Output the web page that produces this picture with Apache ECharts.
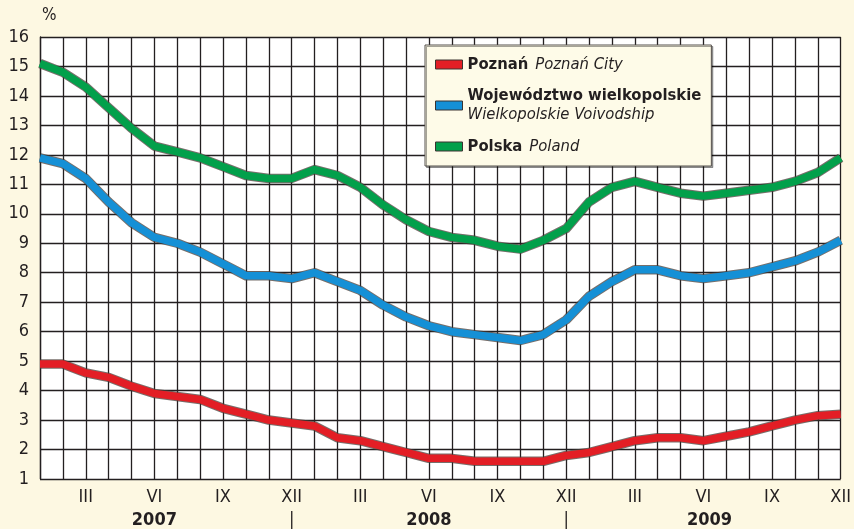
<!DOCTYPE html>
<html>
<head>
<meta charset="utf-8">
<script src="https://cdn.jsdelivr.net/npm/echarts@6/dist/echarts.min.js"></script>
<style>
  html, body { margin: 0; padding: 0; background: #fdf8e2; }
  #chart { width: 854px; height: 529px; }
</style>
</head>
<body>
<div id="chart"></div>
<script>
// stopa bezrobocia, I 2007 - XII 2009
const years = ["2007", "2008", "2009"];
const monthNames = ["I", "II", "III", "IV", "V", "VI", "VII", "VIII", "IX", "X", "XI", "XII"];
const shownMonths = ["III", "VI", "IX", "XII"];

const poznan = [
  4.9, 4.9, 4.6, 4.45, 4.15, 3.9, 3.8, 3.7, 3.4, 3.2, 3.0, 2.9,
  2.8, 2.4, 2.3, 2.1, 1.9, 1.7, 1.7, 1.6, 1.6, 1.6, 1.6, 1.8,
  1.9, 2.1, 2.3, 2.4, 2.4, 2.3, 2.45, 2.6, 2.8, 3.0, 3.15, 3.2
];
const wielkopolskie = [
  11.9, 11.7, 11.2, 10.4, 9.7, 9.2, 9.0, 8.7, 8.3, 7.9, 7.9, 7.8,
  8.0, 7.7, 7.4, 6.9, 6.5, 6.2, 6.0, 5.9, 5.8, 5.7, 5.9, 6.4,
  7.2, 7.7, 8.1, 8.1, 7.9, 7.8, 7.9, 8.0, 8.2, 8.4, 8.7, 9.1
];
const polska = [
  15.1, 14.8, 14.3, 13.6, 12.9, 12.3, 12.1, 11.9, 11.6, 11.3, 11.2, 11.2,
  11.5, 11.3, 10.9, 10.3, 9.8, 9.4, 9.2, 9.1, 8.9, 8.8, 9.1, 9.5,
  10.4, 10.9, 11.1, 10.9, 10.7, 10.6, 10.7, 10.8, 10.9, 11.1, 11.4, 11.9
];

const categories = [];
years.forEach(y => monthNames.forEach(m => categories.push(m + " " + y)));

const FONT = '"Liberation Sans Narrow", "DejaVu Sans Condensed", "Liberation Sans", Arial, sans-serif';
const INK = "#231f20";

const legendSub = {
  "Poznań": "Poznań City",
  "Województwo wielkopolskie": "Wielkopolskie Voivodship",
  "Polska": "Poland"
};

const chart = echarts.init(document.getElementById("chart"));

function outline(data) {
  return {
    type: "line",
    data: data,
    silent: true,
    symbol: "none",
    z: 2,
    lineStyle: { width: 9.5, color: "#4a3f3a", opacity: 0.75, join: "round" }
  };
}
function mainLine(name, data, color) {
  return {
    name: name,
    type: "line",
    data: data,
    symbol: "none",
    color: color,
    z: 3,
    lineStyle: { width: 7.5, color: color, join: "round" }
  };
}

chart.setOption({
  backgroundColor: "#fdf8e2",
  animation: false,
  grid: {
    left: 40,
    right: 12,
    top: 37,
    bottom: 49,
    show: true,
    backgroundColor: "#ffffff",
    borderWidth: 0
  },
  legend: {
    data: ["Poznań", "Województwo wielkopolskie", "Polska"],
    orient: "vertical",
    left: 425,
    top: 45,
    padding: [11, 10, 11, 10],
    itemGap: 14.5,
    itemWidth: 27,
    itemHeight: 9,
    icon: "rect",
    backgroundColor: "#fefbe8",
    borderColor: "#55504c",
    borderWidth: 1,
    shadowColor: "rgba(0,0,0,0.35)",
    shadowOffsetX: 1.5,
    shadowOffsetY: 1.5,
    itemStyle: { borderColor: "#3a3330", borderWidth: 1 },
    formatter: function (name) {
      if (name === "Województwo wielkopolskie") {
        return "{b|" + name + "}\n{i|" + legendSub[name] + "}";
      }
      return "{b|" + name + "}  {i|" + legendSub[name] + "}";
    },
    textStyle: {
      color: INK,
      fontFamily: FONT,
      rich: {
        b: { fontFamily: FONT, fontWeight: "bold", fontSize: 16.5, lineHeight: 19, color: INK },
        i: { fontFamily: FONT, fontStyle: "italic", fontSize: 16.5, lineHeight: 19, color: INK }
      }
    }
  },
  xAxis: [
    {
      type: "category",
      data: categories,
      boundaryGap: false,
      axisLine: { show: false },
      axisTick: { show: false },
      splitLine: { show: true, interval: 0, lineStyle: { color: INK, width: 1.3 } },
      axisLabel: {
        interval: 0,
        margin: 9,
        color: INK,
        fontFamily: FONT,
        fontSize: 18,
        formatter: function (v) {
          const m = v.split(" ")[0];
          return shownMonths.indexOf(m) >= 0 ? m : "";
        }
      }
    },
    {
      type: "category",
      data: categories,
      position: "bottom",
      offset: 24,
      boundaryGap: false,
      axisLine: { show: false },
      axisTick: { show: false },
      splitLine: { show: false },
      axisLabel: {
        interval: 0,
        margin: 8,
        color: INK,
        fontFamily: FONT,
        fontSize: 18,
        formatter: function (v) {
          const parts = v.split(" ");
          if (parts[0] === "VI") {
            return parts[1] === years[years.length - 1] ? "{z|" + parts[1] + "}" : "{y|" + parts[1] + "}";
          }
          if (parts[0] === "XII" && parts[1] !== years[years.length - 1]) return "{s||}";
          return "";
        },
        rich: {
          y: { fontFamily: FONT, fontWeight: "bold", fontSize: 18, color: INK },
          z: { fontFamily: FONT, fontWeight: "bold", fontSize: 18, color: INK, padding: [0, 0, 0, 12] },
          s: { fontFamily: FONT, fontSize: 18, color: INK }
        }
      }
    }
  ],
  yAxis: {
    type: "value",
    min: 1,
    max: 16,
    interval: 1,
    name: "%",
    nameLocation: "end",
    nameGap: 13,
    nameTextStyle: { color: INK, fontFamily: FONT, fontSize: 17, align: "left", padding: [0, 0, 0, 2] },
    axisLine: { show: true, lineStyle: { color: INK, width: 1.3 } },
    axisTick: { show: false },
    splitLine: { show: true, lineStyle: { color: INK, width: 1.3 } },
    axisLabel: { margin: 11, color: INK, fontFamily: FONT, fontSize: 18 }
  },
  series: [
    outline(poznan),
    outline(wielkopolskie),
    outline(polska),
    mainLine("Poznań", poznan, "#e31e25"),
    mainLine("Województwo wielkopolskie", wielkopolskie, "#1590d6"),
    mainLine("Polska", polska, "#02a04b")
  ]
});
</script>
</body>
</html>
